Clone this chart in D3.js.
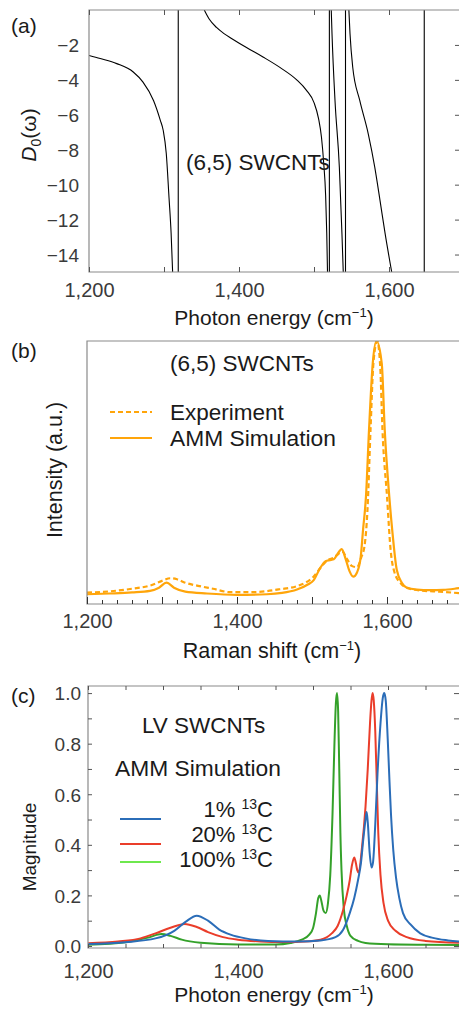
<!DOCTYPE html>
<html><head><meta charset="utf-8">
<script src="https://cdn.jsdelivr.net/npm/d3@7"></script>
<style>body{margin:0;background:#fff}svg{display:block;font-family:"Liberation Sans",Arial,sans-serif}</style>
</head><body>
<script>
// ---------- shared ----------
const xMajorTicks = [1200, 1400, 1600];

// ---------- panel (a): D0(omega) ----------
const aYTicks = [-2, -4, -6, -8, -10, -12, -14];
const aBranch1X = [1200, 1215, 1237, 1259, 1272, 1286, 1295, 1299, 1303, 1306.7, 1309.5, 1311.5];
const aBranch1Y = [-2.6, -2.78, -3.07, -3.55, -4.13, -5.18, -6.3, -6.9, -8.2, -10.75, -12.8, -15];
const aBranch2X = [1353.7, 1360, 1370, 1380, 1390, 1410, 1432, 1455, 1477, 1490, 1500, 1506, 1510, 1513, 1515.5, 1517, 1518];
const aBranch2Y = [0, -0.5, -1.0, -1.35, -1.63, -2.15, -2.69, -3.3, -4.0, -4.6, -5.3, -6.2, -7.3, -8.8, -10.6, -12.8, -15];
const aBranch3X = [1523, 1524, 1528, 1533.8, 1537.3, 1539];
const aBranch3Y = [0, -1.34, -5.18, -9.0, -12.85, -15];
const aBranch4X = [1546.5, 1548, 1551.6, 1561, 1572.4, 1581, 1588, 1595, 1603.6];
const aBranch4Y = [0, -1.34, -3.26, -5.18, -7.1, -9.0, -10.9, -12.85, -15];
const aPoles = [1319, 1520.5, 1542, 1647];

// ---------- panel (b): Raman ----------
const bSimX = [1200,1230,1260,1284,1296,1306,1316,1331,1360,1400,1440,1460,1480,1495,1502,1511,1518,1524,1529,1534,1539.6,1545,1550,1555,1560,1565,1568,1572,1576,1581,1586,1593,1597,1603,1607,1613,1620,1626,1640,1657,1675,1690,1700];
const bSimY = [0.037,0.040,0.044,0.050,0.062,0.081,0.062,0.047,0.040,0.035,0.037,0.042,0.055,0.075,0.090,0.137,0.163,0.167,0.170,0.190,0.209,0.170,0.125,0.104,0.120,0.180,0.280,0.410,0.660,0.915,1.0,0.915,0.660,0.410,0.280,0.130,0.080,0.063,0.055,0.053,0.054,0.058,0.062];
const bExpX = [1200,1230,1260,1284,1300,1311,1320,1331,1350,1368,1391,1420,1457,1480,1502,1512,1520,1528,1535,1540,1547,1553,1560,1566,1570,1574,1578,1582,1587,1591,1594,1600,1605,1610,1618,1630,1650,1670,1700];
const bExpY = [0.043,0.048,0.058,0.070,0.088,0.098,0.094,0.081,0.068,0.058,0.045,0.045,0.056,0.068,0.104,0.140,0.165,0.175,0.190,0.200,0.170,0.145,0.140,0.180,0.220,0.360,0.660,0.920,1.0,0.900,0.660,0.410,0.200,0.120,0.080,0.058,0.050,0.047,0.040];

// ---------- panel (c): magnitude ----------
const cYTicks = [0, 0.2, 0.4, 0.6, 0.8, 1.0];
const cSeriesNames = ["1%", "20%", "100%"];
const cBlueX = [1200,1250,1290,1315,1330,1345,1360,1375,1390,1410,1440,1480,1510,1530,1540,1549,1555,1560,1564,1567,1570,1571.5,1573,1575.5,1578,1580,1583,1586,1590,1593,1595,1597,1599.6,1602,1604,1607,1610.7,1615,1620,1630,1643,1660,1680,1700];
const cBlueY = [0.008,0.015,0.030,0.060,0.095,0.120,0.100,0.065,0.045,0.030,0.020,0.018,0.022,0.035,0.063,0.130,0.190,0.260,0.330,0.420,0.500,0.530,0.490,0.370,0.310,0.330,0.480,0.680,0.880,0.980,1.0,0.970,0.820,0.650,0.520,0.380,0.270,0.190,0.130,0.085,0.050,0.032,0.022,0.016];
const cRedX = [1200,1240,1270,1290,1310,1329,1345,1360,1380,1400,1430,1460,1490,1510,1525,1533,1540,1545,1549,1552,1555,1557,1559,1561,1565,1570,1573,1576,1578,1579.5,1581,1583,1585,1587,1590,1594,1600,1610,1625,1650,1700];
const cRedY = [0.011,0.018,0.030,0.050,0.072,0.087,0.075,0.055,0.035,0.025,0.018,0.016,0.018,0.025,0.050,0.080,0.140,0.200,0.260,0.320,0.350,0.330,0.300,0.290,0.380,0.550,0.700,0.880,0.970,1.0,0.970,0.850,0.650,0.450,0.280,0.170,0.100,0.060,0.035,0.020,0.012];
const cGreenX = [1200,1250,1280,1298,1310,1325,1350,1400,1450,1470,1485,1495,1500,1504,1507,1509,1511,1514,1517,1520,1523,1526,1528.5,1530.5,1532,1533.5,1535,1536.5,1538,1541,1545,1550,1560,1570,1600,1650,1700];
const cGreenY = [0.005,0.015,0.033,0.047,0.040,0.025,0.013,0.006,0.006,0.012,0.025,0.045,0.070,0.130,0.190,0.200,0.180,0.140,0.130,0.170,0.280,0.520,0.790,0.960,1.0,0.930,0.700,0.450,0.300,0.150,0.080,0.040,0.020,0.012,0.007,0.005,0.004];

// ---------- drawing ----------
const W = 459, H = 1010;
const svg = d3.select("body").append("svg").attr("width", W).attr("height", H);
const frameCol = "#8a8a8a", tickCol = "#555", labCol = "#3a3a3a", titleCol = "#1a1a1a";
const zip = (xs, ys) => xs.map((x, i) => [x, ys[i]]);

function panel(id, left, top, bottom, yDomain) {
  const x = d3.scaleLinear().domain([1200, 1700]).range([left, left + 375]);
  const y = d3.scaleLinear().domain(yDomain).range([bottom, top]);
  svg.append("clipPath").attr("id", id).append("rect")
    .attr("x", left).attr("y", top).attr("width", 380).attr("height", bottom - top);
  const g = svg.append("g").attr("clip-path", `url(#${id})`);
  return {x, y, g, left, top, bottom};
}
function frame(p) {
  const r = p.left + 375;
  svg.append("path").attr("fill", "none").attr("stroke", frameCol).attr("stroke-width", 1.2)
    .attr("d", `M${r},${p.top}H${p.left}V${p.bottom}H${r}`);
}
function xTickMarks(p, vals, len, bottomOnly) {
  svg.append("g").attr("transform", `translate(0,${p.bottom})`)
    .call(d3.axisBottom(p.x).tickValues(vals).tickSize(-len).tickFormat(""))
    .call(s => { s.select(".domain").remove(); s.selectAll("line").attr("stroke", tickCol); });
  if (!bottomOnly) {
    svg.append("g").attr("transform", `translate(0,${p.top})`)
      .call(d3.axisTop(p.x).tickValues(vals).tickSize(-len).tickFormat(""))
      .call(s => { s.select(".domain").remove(); s.selectAll("line").attr("stroke", tickCol); });
  }
}
function xLabels(p, baseline) {
  svg.append("g").attr("transform", `translate(0,${baseline})`)
    .call(d3.axisBottom(p.x).tickValues(xMajorTicks).tickSize(0).tickPadding(0).tickFormat(d3.format(",")))
    .call(s => { s.select(".domain").remove();
      s.selectAll("text").attr("dy", 0).attr("y", 0).attr("fill", labCol)
       .attr("font-size", 20).attr("font-family", "Liberation Sans, Arial, sans-serif"); });
}
function yTickMarks(p, vals, len, leftSide, rightSide) {
  if (rightSide) svg.append("g").attr("transform", `translate(${p.left + 375},0)`)
    .call(d3.axisRight(p.y).tickValues(vals).tickSize(-len).tickFormat(""))
    .call(s => { s.select(".domain").remove(); s.selectAll("line").attr("stroke", tickCol); });
  if (leftSide) svg.append("g").attr("transform", `translate(${p.left},0)`)
    .call(d3.axisLeft(p.y).tickValues(vals).tickSize(-len).tickFormat(""))
    .call(s => { s.select(".domain").remove(); s.selectAll("line").attr("stroke", tickCol); });
}
function yLabels(p, vals, xEnd, fmt) {
  svg.append("g").attr("transform", `translate(${xEnd},0)`)
    .call(d3.axisLeft(p.y).tickValues(vals).tickSize(0).tickPadding(0).tickFormat(fmt))
    .call(s => { s.select(".domain").remove();
      s.selectAll("text").attr("x", 0).attr("dy", "0.36em").attr("fill", labCol)
       .attr("font-size", 19).attr("font-family", "Liberation Sans, Arial, sans-serif"); });
}
function cmTitle(prefix, cx, baseline, size) {
  const t = svg.append("text").attr("x", cx).attr("y", baseline).attr("text-anchor", "middle")
    .attr("font-size", size).attr("fill", titleCol);
  t.append("tspan").text(prefix + " (cm");
  t.append("tspan").attr("dy", -8).attr("font-size", 13).text("\u22121");
  t.append("tspan").attr("dy", 8).text(")");
}
function txt(s, x, yb, size, anchor, col) {
  return svg.append("text").attr("x", x).attr("y", yb).attr("font-size", size)
    .attr("text-anchor", anchor || "start").attr("fill", col || titleCol).text(s);
}

// ===== Panel (a) =====
const pa = panel("clipA", 89, 10, 272, [-15, 0]);
const lineA = d3.line().x(d => pa.x(d[0])).y(d => pa.y(d[1])).curve(d3.curveMonotoneX);
[[aBranch1X, aBranch1Y], [aBranch2X, aBranch2Y], [aBranch3X, aBranch3Y], [aBranch4X, aBranch4Y]]
  .forEach(([xs, ys]) => pa.g.append("path").attr("d", lineA(zip(xs, ys)))
    .attr("fill", "none").attr("stroke", "#000").attr("stroke-width", 1.1));
pa.g.selectAll("line.pole").data(aPoles).join("line").attr("class", "pole")
  .attr("x1", d => pa.x(d)).attr("x2", d => pa.x(d)).attr("y1", pa.y(0)).attr("y2", pa.y(-15))
  .attr("stroke", "#000").attr("stroke-width", 1.1);
frame(pa);
xTickMarks(pa, d3.range(1200, 1701, 100), 5, false);
yTickMarks(pa, aYTicks, 9, false, true);
xLabels(pa, 297);
yLabels(pa, aYTicks, 79, d => d3.format("d")(d).replace("-", "\u2212"));
cmTitle("Photon energy", 274, 325, 21);
txt("(a)", 11, 33, 21);
txt("(6,5) SWCNTs", 186, 170, 22.5);
{
  const t = svg.append("text").attr("transform", "translate(36,135) rotate(-90)")
    .attr("text-anchor", "middle").attr("font-size", 21).attr("fill", titleCol);
  t.append("tspan").attr("font-style", "italic").text("D");
  t.append("tspan").attr("dy", 5).attr("font-size", 14).text("0");
  t.append("tspan").attr("dy", -5).text("(\u03c9)");
}

// ===== Panel (b) =====
const pb = panel("clipB", 87, 341, 604, [0, 1]);
const orange = "#ffa50a";
const lineB = d3.line().x(d => pb.x(d[0])).y(d => pb.y(d[1])).curve(d3.curveMonotoneX);
pb.g.append("path").attr("d", lineB(zip(bExpX, bExpY))).attr("fill", "none")
  .attr("stroke", orange).attr("stroke-width", 2.2).attr("stroke-dasharray", "5,3");
pb.g.append("path").attr("d", lineB(zip(bSimX, bSimY))).attr("fill", "none")
  .attr("stroke", orange).attr("stroke-width", 2.2);
frame(pb);
svg.append("g").attr("transform", `translate(0,${pb.bottom})`)
  .call(d3.axisBottom(pb.x).tickValues(d3.range(1200, 1701, 20).filter(v => v % 100 !== 0)).tickSize(-4).tickFormat(""))
  .call(s => { s.select(".domain").remove(); s.selectAll("line").attr("stroke", "#333"); });
svg.append("g").attr("transform", `translate(0,${pb.bottom})`)
  .call(d3.axisBottom(pb.x).tickValues(d3.range(1200, 1701, 100)).tickSize(-7).tickFormat(""))
  .call(s => { s.select(".domain").remove(); s.selectAll("line").attr("stroke", "#333"); });
xLabels(pb, 628);
cmTitle("Raman shift", 272, 658, 21.5);
txt("(b)", 11, 358, 21);
txt("(6,5) SWCNTs", 170, 371, 22.5);
svg.append("line").attr("x1", 110).attr("x2", 152).attr("y1", 412).attr("y2", 412)
  .attr("stroke", orange).attr("stroke-width", 2.2).attr("stroke-dasharray", "5,3");
svg.append("line").attr("x1", 110).attr("x2", 152).attr("y1", 438).attr("y2", 438)
  .attr("stroke", orange).attr("stroke-width", 2.2);
txt("Experiment", 170, 420, 22.5);
txt("AMM Simulation", 170, 446, 22.8);
svg.append("text").attr("transform", "translate(62,470) rotate(-90)").attr("text-anchor", "middle")
  .attr("font-size", 21.5).attr("fill", titleCol).text("Intensity (a.u.)");

// ===== Panel (c) =====
const pc = panel("clipC", 88, 686, 948, [-0.008, 1.028]);
const blue = "#2b6db8", red = "#ea3d2a", green = "#34a12a", greenLegend = "#6ee84e";
const lineC = d3.line().x(d => pc.x(d[0])).y(d => pc.y(d[1])).curve(d3.curveMonotoneX);
[[cGreenX, cGreenY, green], [cRedX, cRedY, red], [cBlueX, cBlueY, blue]].forEach(([xs, ys, c]) =>
  pc.g.append("path").attr("d", lineC(zip(xs, ys))).attr("fill", "none")
    .attr("stroke", c).attr("stroke-width", 2));
frame(pc);
xTickMarks(pc, d3.range(1200, 1701, 50), 4, false);
yTickMarks(pc, d3.range(0, 1.01, 0.1), 4, true, false);
yTickMarks(pc, d3.range(0, 1.01, 0.1), 9, false, true);
xLabels(pc, 978);
yLabels(pc, cYTicks, 81, d3.format(".1f"));
cmTitle("Photon energy", 274, 1002, 21);
txt("(c)", 11, 703, 21);
txt("LV SWCNTs", 142, 733, 22.5);
txt("AMM Simulation", 115, 776, 22.8);
svg.append("text").attr("transform", "translate(36,847) rotate(-90)").attr("text-anchor", "middle")
  .attr("font-size", 19).attr("fill", titleCol).text("Magnitude");
const legY = [819, 844, 862], legText = [817, 842, 867], legCol = [blue, red, greenLegend];
cSeriesNames.forEach((n, i) => {
  svg.append("line").attr("x1", 120).attr("x2", 161).attr("y1", legY[i]).attr("y2", legY[i])
    .attr("stroke", legCol[i]).attr("stroke-width", 2);
  const t = svg.append("text").attr("x", 273).attr("y", legText[i]).attr("text-anchor", "end")
    .attr("font-size", 22).attr("fill", titleCol);
  t.append("tspan").text(n + " ");
  t.append("tspan").attr("dy", -8).attr("font-size", 14).text("13");
  t.append("tspan").attr("dy", 8).text("C");
});
</script>
</body></html>
